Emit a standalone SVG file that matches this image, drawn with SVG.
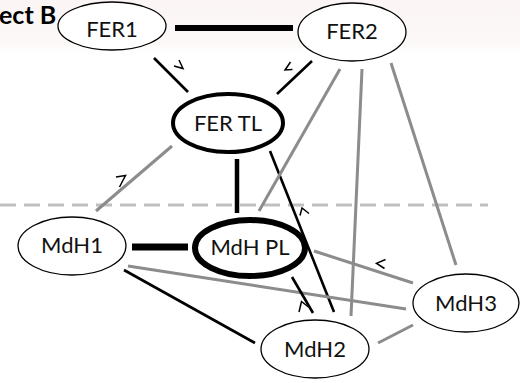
<svg xmlns="http://www.w3.org/2000/svg" width="520" height="383" viewBox="0 0 520 383">
  <defs>
    <linearGradient id="topTint" x1="0" y1="0" x2="0" y2="1">
      <stop offset="0" stop-color="#fbf5f5"/>
      <stop offset="0.8" stop-color="#fcf8f8"/>
      <stop offset="1" stop-color="#ffffff"/>
    </linearGradient>
    <style>
      .node ellipse { fill: #ffffff; stroke: #000000; stroke-width: 1.3; }
      .node.bold ellipse { stroke-width: 4; }
      .node.heavy ellipse { stroke-width: 6; }
      .node text { font-family: Lato, "Liberation Sans", sans-serif; font-size: 22px; text-anchor: middle; fill: #111111; }
      .blk { stroke: #000000; stroke-width: 2.6; fill: none; }
      .gry { stroke: #8c8c8c; stroke-width: 3; fill: none; }
      .thick { stroke: #000000; fill: none; }
      .dir { stroke: #000000; stroke-width: 1.5; fill: none; stroke-linejoin: miter; }
      .divider { stroke: #bfbfbf; stroke-width: 3; stroke-dasharray: 16 8; }
      .title { font-family: Lato, "Liberation Sans", sans-serif; font-weight: bold; font-size: 25px; fill: #000000; }
    </style>
  </defs>

  <rect x="0" y="0" width="520" height="383" fill="#ffffff"/>
  <rect x="0" y="0" width="520" height="54" fill="url(#topTint)"/>

  <text class="title" x="-1" y="24">ect B</text>

  <!-- dashed boundary -->
  <line class="divider" x1="0" y1="205" x2="488" y2="205"/>

  <!-- connectors -->
  <g id="connectors">
    <line class="thick" x1="175" y1="28" x2="293" y2="28" stroke-width="6"/>
    <line class="blk" x1="154" y1="58" x2="188" y2="92"/>
    <line class="blk" x1="312" y1="61" x2="277" y2="94"/>
    <line class="thick" x1="237" y1="159" x2="237" y2="213" stroke-width="4.5"/>
    <line class="blk" x1="270" y1="151" x2="334" y2="312"/>
    <line class="thick" x1="132" y1="247" x2="188" y2="247" stroke-width="7"/>
    <line class="gry" x1="128" y1="266" x2="406" y2="309"/>
    <line class="blk" x1="124" y1="270" x2="255" y2="343"/>
    <line class="gry" x1="314" y1="251" x2="413" y2="283"/>
    <line class="blk" x1="292" y1="277" x2="313" y2="313"/>
    <line class="gry" x1="378" y1="343" x2="413" y2="325"/>
    <line class="gry" x1="340" y1="69" x2="259" y2="211"/>
    <line class="gry" x1="362" y1="69" x2="351" y2="316"/>
    <line class="gry" x1="391" y1="63" x2="456" y2="265"/>
    <line class="gry" x1="172" y1="146" x2="96" y2="211"/>

    <!-- direction marks -->
    <polyline class="dir" points="179,60 183,68.5 174,66"/>
    <polyline class="dir" points="290.5,62 285,70 292.5,69.5"/>
    <polyline class="dir" points="116,177 125.5,175.5 119.5,187"/>
    <polyline class="dir" points="300,215.5 302,208 309,213.5"/>
    <polyline class="dir" points="299,312 301.5,301.5 308.5,307"/>
    <polyline class="dir" points="385.5,259.5 376.5,263.3 384.5,268.5"/>
  </g>

  <!-- nodes -->
  <g id="FER1" class="node">
    <ellipse cx="112" cy="26" rx="54" ry="24"/>
    <text x="112" y="37">FER1</text>
  </g>
  <g id="FER2" class="node">
    <ellipse cx="352" cy="32" rx="54" ry="29"/>
    <text x="352" y="39">FER2</text>
  </g>
  <g id="FER_TL" class="node bold">
    <ellipse cx="228" cy="123" rx="55" ry="29"/>
    <text x="228" y="131">FER TL</text>
  </g>
  <g id="MdH1" class="node">
    <ellipse cx="72" cy="246" rx="54" ry="29"/>
    <text x="72" y="253">MdH1</text>
  </g>
  <g id="MdH_PL" class="node heavy">
    <ellipse cx="250" cy="248" rx="55" ry="28"/>
    <text x="250" y="255">MdH PL</text>
  </g>
  <g id="MdH3" class="node">
    <ellipse cx="466" cy="303" rx="53" ry="29"/>
    <text x="466" y="311">MdH3</text>
  </g>
  <g id="MdH2" class="node">
    <ellipse cx="315" cy="349" rx="54" ry="29"/>
    <text x="315" y="357">MdH2</text>
  </g>
</svg>
